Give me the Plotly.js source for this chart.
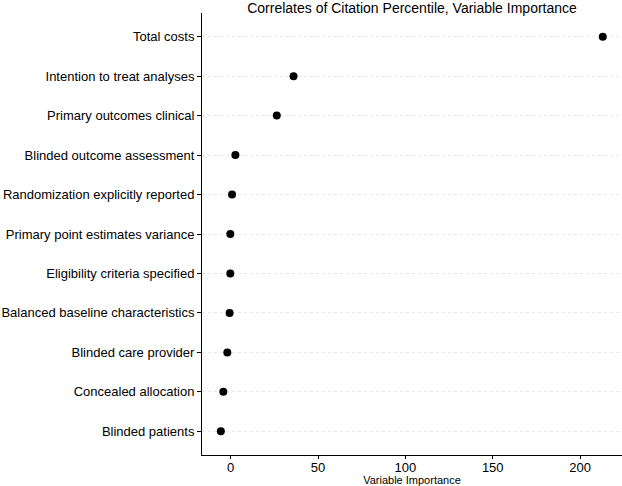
<!DOCTYPE html>
<html>
<head>
<meta charset="utf-8">
<script src="https://cdn.plot.ly/plotly-3.0.1.min.js"></script>
<style>html,body{margin:0;padding:0;background:#fff;}#chart{width:622px;height:486px;}</style>
</head>
<body>
<div id="chart"></div>
<script>
var variables = [
  "Total costs",
  "Intention to treat analyses",
  "Primary outcomes clinical",
  "Blinded outcome assessment",
  "Randomization explicitly reported",
  "Primary point estimates variance",
  "Eligibility criteria specified",
  "Balanced baseline characteristics",
  "Blinded care provider",
  "Concealed allocation",
  "Blinded patients"
];
var importance = [213, 36, 26.4, 2.7, 0.8, -0.2, -0.2, -0.6, -1.9, -4.2, -5.6];
var xTickValues = [0, 50, 100, 150, 200];

var font = "Liberation Sans, Arial, Helvetica, sans-serif";

var trace = {
  type: "scatter",
  mode: "markers",
  x: importance,
  y: variables,
  marker: {color: "#000000", size: 8},
  hoverinfo: "x+y",
  showlegend: false
};

var layout = {
  width: 622,
  height: 486,
  margin: {l: 202, r: 0, t: 13, b: 31, pad: 0},
  paper_bgcolor: "#ffffff",
  plot_bgcolor: "#ffffff",
  font: {family: font, color: "#000000"},
  title: {
    text: "Correlates of Citation Percentile, Variable Importance",
    font: {family: font, size: 14, color: "#000000"},
    x: 0.5, xref: "paper", xanchor: "center",
    y: 0.984, yref: "container", yanchor: "middle"
  },
  xaxis: {
    range: [-16.4, 224],
    tickvals: xTickValues,
    ticktext: xTickValues.map(String),
    showgrid: false,
    zeroline: false,
    showline: true,
    linecolor: "#000000",
    linewidth: 1,
    ticks: "outside",
    ticklen: 3,
    tickcolor: "#000000",
    ticklabelstandoff: -3,
    tickfont: {family: font, size: 13, color: "#000000"},
    title: {text: "Variable Importance", font: {family: font, size: 11, color: "#000000"}, standoff: 1}
  },
  yaxis: {
    type: "category",
    categoryorder: "array",
    categoryarray: variables,
    range: [10.6, -0.6],
    showgrid: true,
    gridcolor: "#e8e8e8",
    griddash: "3px,3px",
    gridwidth: 1,
    zeroline: false,
    showline: true,
    linecolor: "#000000",
    linewidth: 1,
    ticks: "outside",
    ticklen: 4,
    tickcolor: "#000000",
    tickfont: {family: font, size: 13, color: "#000000"}
  }
};

Plotly.newPlot("chart", [trace], layout, {displayModeBar: false, staticPlot: true});
</script>
</body>
</html>
